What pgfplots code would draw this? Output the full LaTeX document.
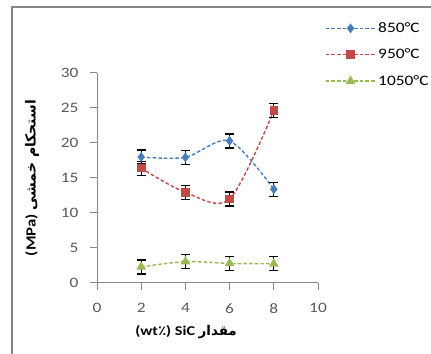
\documentclass[border=0pt]{standalone}
\usepackage{pgfplots}
\pgfplotsset{compat=1.18}
\usepackage{fontspec}
\setmainfont{Carlito}[FakeStretch=1.2]
\newfontfamily\arabicfont[Script=Arabic]{DejaVu Sans}
\TeXXeTstate=1
\definecolor{cblue}{HTML}{4A7EBB}
\definecolor{cred}{HTML}{BE4B48}
\definecolor{cgreen}{HTML}{98B954}
\definecolor{tickgray}{HTML}{595959}
\definecolor{axgray}{HTML}{868686}
\pgfplotstableread{
x y e
2 18.0 1
4 17.95 1
6 20.3 1
8 13.4 1
}\tA
\pgfplotstableread{
x y e
2 16.4 1
4 12.95 1
6 12.0 1
8 24.6 1
}\tB
\pgfplotstableread{
x y e
2 2.3 1
4 3.05 1
6 2.8 1
8 2.75 1
}\tC
\begin{document}
\begin{tikzpicture}[x=1bp,y=1bp]
\path[use as bounding box] (0,0) rectangle (431,354);
\draw[axgray, line width=1.8bp] (12,0) -- (12,347) -- (440,347);
\begin{axis}[
  at={(97bp,71bp)}, anchor=south west,
  scale only axis, width=221bp, height=210bp,
  xmin=0, xmax=10, ymin=0, ymax=30,
  xtick={0,2,...,10}, ytick={0,5,...,30},
  axis x line*=bottom, axis y line*=left,
  axis line style={draw=axgray, line width=1bp, -},
  tick style={draw=axgray, line width=1bp},
  tick align=outside, major tick length=7bp,
  /pgf/number format/assume math mode=true,
  ticklabel style={font=\fontsize{14.5}{16}\selectfont, text=tickgray},
  xticklabel style={yshift=-10bp},
  yticklabel style={xshift=-8bp},
  xlabel={\bfseries (wt{\arabicfont ٪}) SiC {\arabicfont\bfseries\beginR مقدار\endR}},
  xlabel style={at={(axis description cs:0.403,-0.235)}, anchor=center, font=\fontsize{13.5}{15}\selectfont},
  ylabel={\bfseries (MPa) {\arabicfont\bfseries\beginR استحکام خمشی\endR}},
  ylabel style={at={(axis description cs:-0.294,0.5)}, anchor=center, rotate=0, font=\fontsize{14}{15}\selectfont},
  legend style={at={(axis description cs:1.03,1.25)}, anchor=north west, draw=none, fill=none,
    font=\fontsize{14.5}{16}\selectfont, row sep=11bp, inner sep=0pt},
  legend cell align=left,
  legend image code/.code={%
    \draw[mark repeat=2,mark phase=2,#1] plot coordinates {(0bp,0bp) (25bp,0bp) (50bp,0bp)};},
  every axis plot/.append style={line width=1.4bp, dash pattern=on 3.5bp off 2.2bp},
  error bars/error bar style={black, solid, line width=1.3bp},
  error bars/error mark options={black, solid, line width=1.3bp, mark size=4.5bp, rotate=90},
]
\addplot[cblue, smooth, mark=diamond*, mark size=3.8bp, mark options={solid, fill=cblue},
  error bars/.cd, y dir=both, y explicit] table[x=x, y=y, y error=e] {\tA};
\addlegendentry{850°C}
\addplot[cred, smooth, mark=square*, mark size=3.6bp, mark options={solid, fill=cred},
  error bars/.cd, y dir=both, y explicit] table[x=x, y=y, y error=e] {\tB};
\addlegendentry{950°C}
\addplot[cgreen, smooth, mark=triangle*, mark size=4.2bp, mark options={solid, fill=cgreen},
  error bars/.cd, y dir=both, y explicit] table[x=x, y=y, y error=e] {\tC};
\addlegendentry{1050°C}
\end{axis}
\end{tikzpicture}
\end{document}
